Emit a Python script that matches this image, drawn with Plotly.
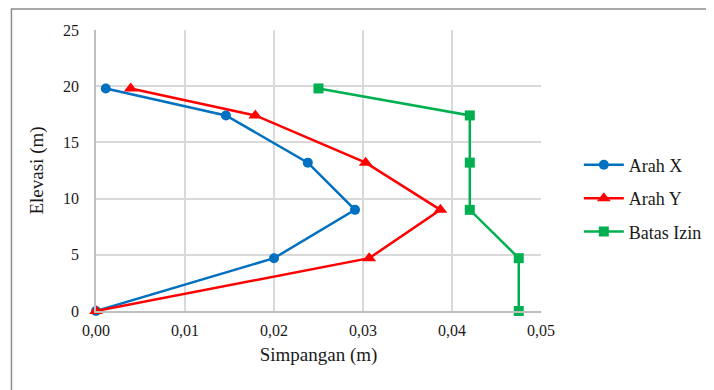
import plotly.graph_objects as go

# Elevation of each floor level (m)
elevasi = [0, 4.7, 9.0, 13.2, 17.4, 19.8]

# Story displacement (m)
arah_x = [0.0, 0.0200, 0.0291, 0.0238, 0.0146, 0.0011]
arah_y = [0.0, 0.0307, 0.0387, 0.0303, 0.0179, 0.0039]
batas_izin = [0.0475, 0.0475, 0.042, 0.042, 0.042, 0.025]

x_ticks = [0, 0.01, 0.02, 0.03, 0.04, 0.05]
x_tick_labels = ["0,00", "0,01", "0,02", "0,03", "0,04", "0,05"]

font_family = "Liberation Serif, Times New Roman, serif"
text_color = "#1A1A1A"

fig = go.Figure()

fig.add_trace(go.Scatter(
    x=arah_x, y=elevasi, name="Arah X", mode="lines+markers", legendgroup="x",
    line=dict(color="#0070C0", width=2.5),
    marker=dict(symbol="circle", size=10, color="#0070C0"),
    cliponaxis=False,
))
fig.add_trace(go.Scatter(
    x=arah_y, y=elevasi, name="Arah Y", mode="lines+markers", legendgroup="y",
    line=dict(color="#FF0000", width=2.5),
    marker=dict(symbol="triangle-up", size=12, color="#FF0000"),
    cliponaxis=False,
))
fig.add_trace(go.Scatter(
    x=batas_izin, y=elevasi, name="Batas Izin", mode="lines+markers", legendgroup="b",
    line=dict(color="#00B050", width=2.5),
    marker=dict(symbol="square", size=10, color="#00B050"),
    cliponaxis=False,
))

# outer chart border (left and top edges are visible in the reference)
fig.add_shape(
    type="rect", xref="paper", yref="paper",
    x0=-0.190, x1=1.5, y0=-0.4, y1=1.075,
    line=dict(color="#8C8C8C", width=1.5), layer="below",
)

fig.update_layout(
    width=714, height=390,
    margin=dict(l=88, r=181, t=22, b=87),
    paper_bgcolor="white", plot_bgcolor="white",
    font=dict(family=font_family, color=text_color, size=16),
    showlegend=True,
    legend=dict(
        x=1.085, y=0.40, xanchor="left", yanchor="middle",
        font=dict(family=font_family, size=18, color=text_color),
        itemwidth=40, tracegroupgap=7,
        bgcolor="rgba(0,0,0,0)",
    ),
)

fig.update_xaxes(
    range=[0, 0.05], tickvals=x_ticks, ticktext=x_tick_labels,
    showgrid=True, gridcolor="#D9D9D9", gridwidth=1.5,
    showline=True, linecolor="#BFBFBF", linewidth=1.5,
    zeroline=False, ticks="", ticklabelstandoff=4,
    tickfont=dict(family=font_family, size=16, color=text_color),
    title=dict(text="Simpangan (m)", font=dict(family=font_family, size=19, color=text_color), standoff=10),
    automargin=False,
)
fig.update_yaxes(
    range=[0, 25], dtick=5,
    showgrid=True, gridcolor="#D9D9D9", gridwidth=1.5,
    showline=True, linecolor="#BFBFBF", linewidth=1.5,
    zeroline=False, ticks="", ticklabelstandoff=12,
    tickfont=dict(family=font_family, size=16, color=text_color),
    title=dict(text="Elevasi (m)", font=dict(family=font_family, size=19, color=text_color), standoff=14),
    automargin=False,
)

fig.write_html("out.html")
